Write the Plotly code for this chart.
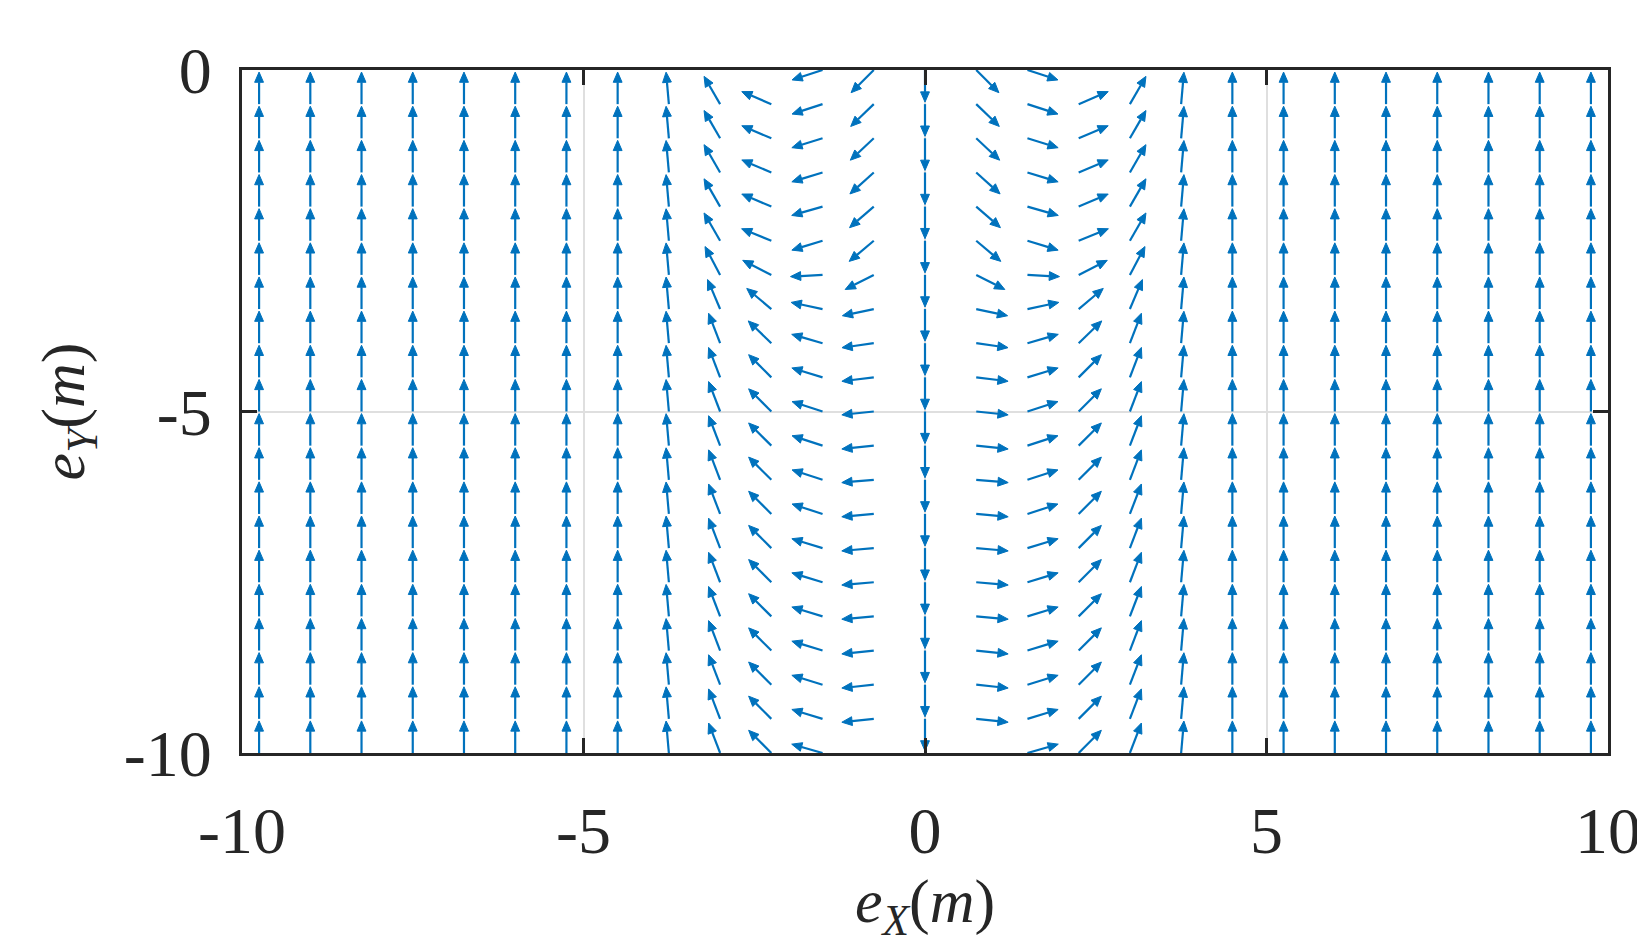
import numpy as np
import plotly.graph_objects as go

# grid of arrow bases
x_cols = [-9.75, -9.0, -8.25, -7.5, -6.75, -6.0, -5.25, -4.5, -3.75, -3.0, -2.25, -1.5, -0.75,
          0.0, 0.75, 1.5, 2.25, 3.0, 3.75, 4.5, 5.25, 6.0, 6.75, 7.5, 8.25, 9.0, 9.75]
y_rows = [0, -0.5, -1, -1.5, -2, -2.5, -3, -3.5, -4, -4.5, -5, -5.5, -6, -6.5, -7, -7.5, -8,
          -8.5, -9, -9.5, -10]

# arrow directions (degrees) per column, top row to bottom row
ang_m375 = [90] + [95] * 20
ang_m300 = [90, 120, 120, 120, 120, 120, 118, 113, 111, 111, 111, 111, 111, 111, 111, 111, 111, 111, 111, 111, 111]
ang_m225 = [90, 157, 157, 157, 157, 158, 153, 140, 136, 135, 135, 135, 135, 135, 135, 135, 135, 135, 135, 135, 135]
ang_m150 = [198, 198, 197, 197, 196, 197, 183, 168, 164, 163, 162, 162, 162, 162, 163, 163, 163, 163, 163, 163, 164]
ang_m075 = [225, 224, 223, 222, 221, 220, 207, 192, 188, 187, 186, 186, 185, 185, 185, 185, 185, 186, 186, 186, 270]
ang_p000 = [270] * 21
ang_p075 = [-45, -44, -43, -42, -41, -40, -27, -12, -8, -7, -6, -6, -5, -5, -5, -5, -5, -6, -6, -6, -90]
ang_p150 = [-18, -18, -17, -17, -16, -17, -3, 12, 16, 17, 18, 18, 18, 18, 17, 17, 17, 17, 17, 17, 16]
ang_p225 = [90, 23, 23, 23, 23, 22, 27, 40, 44, 45, 45, 45, 45, 45, 45, 45, 45, 45, 45, 45, 45]
ang_p300 = [90, 60, 60, 60, 60, 60, 62, 67, 69, 69, 69, 69, 69, 69, 69, 69, 69, 69, 69, 69, 69]
ang_p375 = [90] + [85] * 20
ang_far = [90] * 21

col_angles = {-3.75: ang_m375, -3.0: ang_m300, -2.25: ang_m225, -1.5: ang_m150, -0.75: ang_m075,
              0.0: ang_p000, 0.75: ang_p075, 1.5: ang_p150, 2.25: ang_p225, 3.0: ang_p300, 3.75: ang_p375}

L = 0.47      # arrow length (data units)
HL = 0.15     # head length
HW = 0.065    # head half-width
color = "#0072BD"

sx, sy, hx, hy = [], [], [], []
for xc in x_cols:
    angs = col_angles.get(xc, ang_far)
    for yr, a in zip(y_rows, angs):
        t = np.deg2rad(a)
        ux, uy = np.cos(t), np.sin(t)
        tx, ty = xc + L * ux, yr + L * uy
        bx, by = tx - HL * ux, ty - HL * uy
        sx += [xc, bx, None]; sy += [yr, by, None]
        px, py = -uy, ux
        hx += [tx, bx + HW * px, bx - HW * px, tx, None]
        hy += [ty, by + HW * py, by - HW * py, ty, None]

fig = go.Figure()
fig.add_trace(go.Scatter(x=sx, y=sy, mode="lines", line=dict(color=color, width=2.2),
                         hoverinfo="skip", showlegend=False))
fig.add_trace(go.Scatter(x=hx, y=hy, mode="lines", fill="toself", fillcolor=color,
                         line=dict(color=color, width=1), hoverinfo="skip", showlegend=False))

serif = "Liberation Serif, DejaVu Serif, serif"
tick_font = dict(family=serif, size=66, color="#262626")
ax_common = dict(showline=True, linecolor="#262626", linewidth=3, mirror="ticks",
                 ticks="inside", ticklen=15, tickwidth=3, tickcolor="#262626",
                 showgrid=True, gridcolor="#DFDFDF", gridwidth=2, zeroline=False,
                 tickfont=tick_font)
fig.update_layout(
    width=1645, height=939, paper_bgcolor="white", plot_bgcolor="white",
    margin=dict(l=234, r=43, t=62, b=194),
    xaxis=dict(range=[-10, 10], tickvals=[-10, -5, 0, 5, 10],
               ticktext=["-10", "-5", "0", "5", "10"], ticklabelstandoff=18,
               title=dict(text="<i>e</i><sub><i>X</i></sub>(<i>m</i>)", standoff=6,
                          font=dict(family=serif, size=62, color="#262626")),
               **ax_common),
    yaxis=dict(range=[-10, 0], tickvals=[-10, -5, 0], ticktext=["-10", "-5", "0"],
               ticklabelstandoff=14,
               title=dict(text="<i>e</i><sub><i>Y</i></sub>(<i>m</i>)", standoff=20,
                          font=dict(family=serif, size=62, color="#262626")),
               **ax_common),
)
fig.write_html("out.html")
